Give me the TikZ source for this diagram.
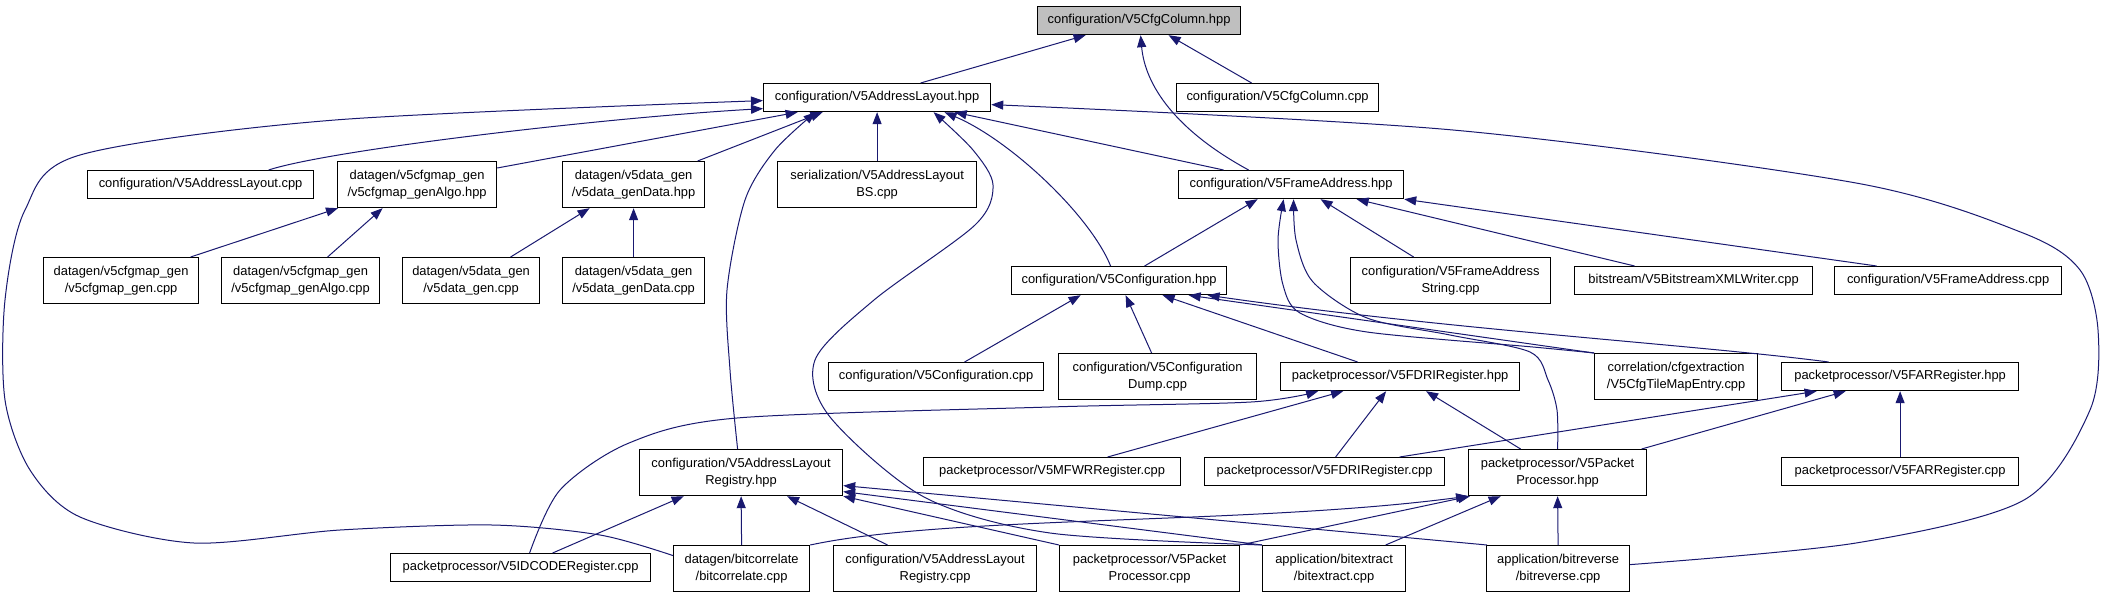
\documentclass[tikz,border=0pt]{standalone}
\usepackage{fontspec}
\setmainfont{Liberation Sans}
\usetikzlibrary{arrows.meta}
\definecolor{edgec}{RGB}{25,25,112}
\definecolor{rootc}{RGB}{191,191,191}
\begin{document}
\begin{tikzpicture}[x=1pt,y=-1pt,
 box/.style={draw=black, line width=1.2pt, fill=white, inner sep=0pt, anchor=north west, align=center, font=\fontsize{12.9}{16.5}\selectfont},
 rootbox/.style={box, fill=rootc},
 edge/.style={draw=edgec, line width=1pt, -{Triangle[length=12pt,width=9pt]}},
]
\useasboundingbox[fill=white] (0,0) rectangle (2103,597);
% nodes
\node[rootbox, minimum width=203pt, minimum height=28pt] (CCh) at (1037,6) {configuration/V5CfgColumn.hpp};
\node[box, minimum width=227pt, minimum height=28pt] (ALh) at (763,83) {configuration/V5AddressLayout.hpp};
\node[box, minimum width=202pt, minimum height=28pt] (CCc) at (1176,83) {configuration/V5CfgColumn.cpp};
\node[box, minimum width=226pt, minimum height=28pt] (ALc) at (87,170) {configuration/V5AddressLayout.cpp};
\node[box, minimum width=159pt, minimum height=46pt] (GAh) at (337,161) {datagen/v5cfgmap\_gen\\/v5cfgmap\_genAlgo.hpp};
\node[box, minimum width=142pt, minimum height=46pt] (GDh) at (562,161) {datagen/v5data\_gen\\/v5data\_genData.hpp};
\node[box, minimum width=199pt, minimum height=46pt] (BSc) at (777,161) {serialization/V5AddressLayout\\BS.cpp};
\node[box, minimum width=225pt, minimum height=28pt] (FAh) at (1178,170) {configuration/V5FrameAddress.hpp};
\node[box, minimum width=155pt, minimum height=46pt] (GMc) at (43,257) {datagen/v5cfgmap\_gen\\/v5cfgmap\_gen.cpp};
\node[box, minimum width=158pt, minimum height=46pt] (GAc) at (221,257) {datagen/v5cfgmap\_gen\\/v5cfgmap\_genAlgo.cpp};
\node[box, minimum width=137pt, minimum height=46pt] (DGc) at (402,257) {datagen/v5data\_gen\\/v5data\_gen.cpp};
\node[box, minimum width=142pt, minimum height=46pt] (DDc) at (562,257) {datagen/v5data\_gen\\/v5data\_genData.cpp};
\node[box, minimum width=215pt, minimum height=28pt] (CFh) at (1011,266) {configuration/V5Configuration.hpp};
\node[box, minimum width=200pt, minimum height=46pt] (FSc) at (1350,257) {configuration/V5FrameAddress\\String.cpp};
\node[box, minimum width=238pt, minimum height=28pt] (XWc) at (1574,266) {bitstream/V5BitstreamXMLWriter.cpp};
\node[box, minimum width=227pt, minimum height=28pt] (FAc) at (1834,266) {configuration/V5FrameAddress.cpp};
\node[box, minimum width=215pt, minimum height=28pt] (CFc) at (828,362) {configuration/V5Configuration.cpp};
\node[box, minimum width=198pt, minimum height=46pt] (CDc) at (1058,353) {configuration/V5Configuration\\Dump.cpp};
\node[box, minimum width=239pt, minimum height=28pt] (FDh) at (1280,362) {packetprocessor/V5FDRIRegister.hpp};
\node[box, minimum width=163pt, minimum height=46pt] (TMc) at (1594,353) {correlation/cfgextraction\\/V5CfgTileMapEntry.cpp};
\node[box, minimum width=237pt, minimum height=28pt] (FRh) at (1781,362) {packetprocessor/V5FARRegister.hpp};
\node[box, minimum width=203pt, minimum height=46pt] (RGh) at (639,449) {configuration/V5AddressLayout\\Registry.hpp};
\node[box, minimum width=257pt, minimum height=28pt] (MWc) at (923,457) {packetprocessor/V5MFWRRegister.cpp};
\node[box, minimum width=240pt, minimum height=28pt] (FDc) at (1204,457) {packetprocessor/V5FDRIRegister.cpp};
\node[box, minimum width=178pt, minimum height=46pt] (PPh) at (1468,449) {packetprocessor/V5Packet\\Processor.hpp};
\node[box, minimum width=237pt, minimum height=28pt] (FRc) at (1781,457) {packetprocessor/V5FARRegister.cpp};
\node[box, minimum width=260pt, minimum height=28pt] (IDc) at (390,553) {packetprocessor/V5IDCODERegister.cpp};
\node[box, minimum width=136pt, minimum height=46pt] (BCc) at (673,545) {datagen/bitcorrelate\\/bitcorrelate.cpp};
\node[box, minimum width=203pt, minimum height=46pt] (RGc) at (833,545) {configuration/V5AddressLayout\\Registry.cpp};
\node[box, minimum width=180pt, minimum height=46pt] (PPc) at (1059,545) {packetprocessor/V5Packet\\Processor.cpp};
\node[box, minimum width=143pt, minimum height=46pt] (BXc) at (1262,545) {application/bitextract\\/bitextract.cpp};
\node[box, minimum width=143pt, minimum height=46pt] (BRc) at (1486,545) {application/bitreverse\\/bitreverse.cpp};
% edges to V5CfgColumn.hpp
\draw[edge] ([xshift=43.5pt]ALh.north) -- ([xshift=-53.5pt]CCh.south);
\draw[edge] ([xshift=-26pt]CCc.north) -- ([xshift=29.5pt]CCh.south);
\draw[edge] ([xshift=-42.5pt]FAh.north) .. controls (1175,130) and (1145,85) .. ([xshift=1.5pt]CCh.south);
% edges to V5AddressLayout.hpp
\draw[edge] ([xshift=68pt]ALc.north) .. controls (330,150) and (600,118) .. ([yshift=-11pt]ALh.west);
\draw[edge] ([yshift=-7pt]GAh.north east) -- ([xshift=-79.5pt]ALh.south);
\draw[edge] ([xshift=64pt]GDh.north) -- ([xshift=-54.5pt]ALh.south);
\draw[edge] (BSc.north) -- (ALh.south);
\draw[edge] ([xshift=-67.5pt]FAh.north) -- ([xshift=77.5pt]ALh.south);
\draw[edge] ([xshift=-8.5pt]CFh.north) .. controls (1090,215) and (1010,140) .. ([xshift=67.5pt]ALh.south);
\draw[edge] plot[smooth] coordinates {([xshift=-3.5pt]RGh.north) (730,370) (727,290) (745,200) (775,150) ([xshift=-61.5pt]ALh.south)};
\draw[edge] plot[smooth] coordinates {(BXc.north west) (1050,533) (924,497) (830,417) (815,360) (874,300) (975,225) (993,185) (973,150) ([xshift=56.5pt]ALh.south)};
\draw[edge] plot[smooth] coordinates {([yshift=4pt]BRc.east) (1856,543) (2024,500) (2090,410) (2098,330) (2080,270) (2023,233) (1856,183) (1453,130) ([yshift=-7pt]ALh.east)};
\draw[edge] plot[smooth] coordinates {([yshift=13pt]BCc.west) (600,535) (492,525) (340,530) (194,543) (80,517) (30,470) (5,400) (5,300) (25,210) (80,155) (335,120) ([yshift=-3pt]ALh.west)};
% datagen
\draw[edge] ([xshift=69.5pt]GMc.north) -- ([xshift=1pt]GAh.south west);
\draw[edge] ([xshift=27pt]GAc.north) -- ([xshift=-34.5pt]GAh.south);
\draw[edge] ([xshift=39.5pt]DGc.north) -- ([xshift=-44pt]GDh.south);
\draw[edge] (DDc.north) -- (GDh.south);
% edges to V5FrameAddress.hpp
\draw[edge] ([xshift=25.5pt]CFh.north) -- ([xshift=-33.5pt]FAh.south);
\draw[edge] ([xshift=-37pt]FSc.north) -- ([xshift=29.5pt]FAh.south);
\draw[edge] ([xshift=-59pt]XWc.north) -- ([xshift=65.5pt]FAh.south);
\draw[edge] ([xshift=-71.5pt]FAc.north) -- (FAh.south east);
\draw[edge] plot[smooth] coordinates {(TMc.north west) (1533,347) (1367,332) (1300,313) (1283,285) (1278,240) ([xshift=-7.5pt]FAh.south)};
\draw[edge] plot[smooth] coordinates {(PPh.north) (1557,410) (1548,380) (1530,352) (1450,335) (1367,318) (1313,282) (1296,240) ([xshift=2.5pt]FAh.south)};
% edges to V5Configuration.hpp
\draw[edge] ([xshift=28.5pt]CFc.north) -- ([xshift=-38.5pt]CFh.south);
\draw[edge] ([xshift=-6pt]CDc.north) -- ([xshift=6.5pt]CFh.south);
\draw[edge] ([xshift=-42.5pt]FDh.north) -- ([xshift=43.5pt]CFh.south);
\draw[edge] (TMc.north west) -- ([xshift=69.5pt]CFh.south);
\draw[edge] ([xshift=-71.5pt]FRh.north) .. controls (1700,345) and (1450,330) .. ([xshift=88.5pt]CFh.south);
% edges to V5FDRIRegister.hpp
\draw[edge] ([xshift=55.5pt]MWc.north) -- ([xshift=-57pt]FDh.south);
\draw[edge] ([xshift=11pt]FDc.north) -- ([xshift=-14pt]FDh.south);
\draw[edge] ([xshift=-37pt]PPh.north) -- ([xshift=26pt]FDh.south);
\draw[edge] plot[smooth] coordinates {([xshift=9pt]IDc.north) (560,490) (629,443) (737,418) (1050,407) (1251,402) ([xshift=-82pt]FDh.south)};
% edges to V5AddressLayoutRegistry.hpp
\draw[edge] ([xshift=32pt]IDc.north) -- ([xshift=-57.5pt]RGh.south);
\draw[edge] (BCc.north) -- (RGh.south);
\draw[edge] ([xshift=-47.5pt]RGc.north) -- ([xshift=46pt]RGh.south);
\draw[edge] ([xshift=1pt]BRc.north west) -- ([yshift=-13pt]RGh.east);
\draw[edge] (BXc.north west) -- ([yshift=-19pt]RGh.east);
\draw[edge] (PPc.north west) -- (RGh.south east);
% edges to V5PacketProcessor.hpp
\draw[edge] (BCc.north east) .. controls (950,515) and (1250,525) .. (PPh.south west);
\draw[edge] (PPc.north east) -- ([xshift=2pt]PPh.south west);
\draw[edge] ([xshift=51.5pt]BXc.north) -- ([xshift=-57pt]PPh.south);
\draw[edge] (BRc.north) -- (PPh.south);
% edges to V5FARRegister.hpp
\draw[edge] ([xshift=75pt]FDc.north) -- ([xshift=-83.5pt]FRh.south);
\draw[edge] ([xshift=84pt]PPh.north) -- ([xshift=-54.5pt]FRh.south);
\draw[edge] (FRc.north) -- (FRh.south);
\end{tikzpicture}
\end{document}
